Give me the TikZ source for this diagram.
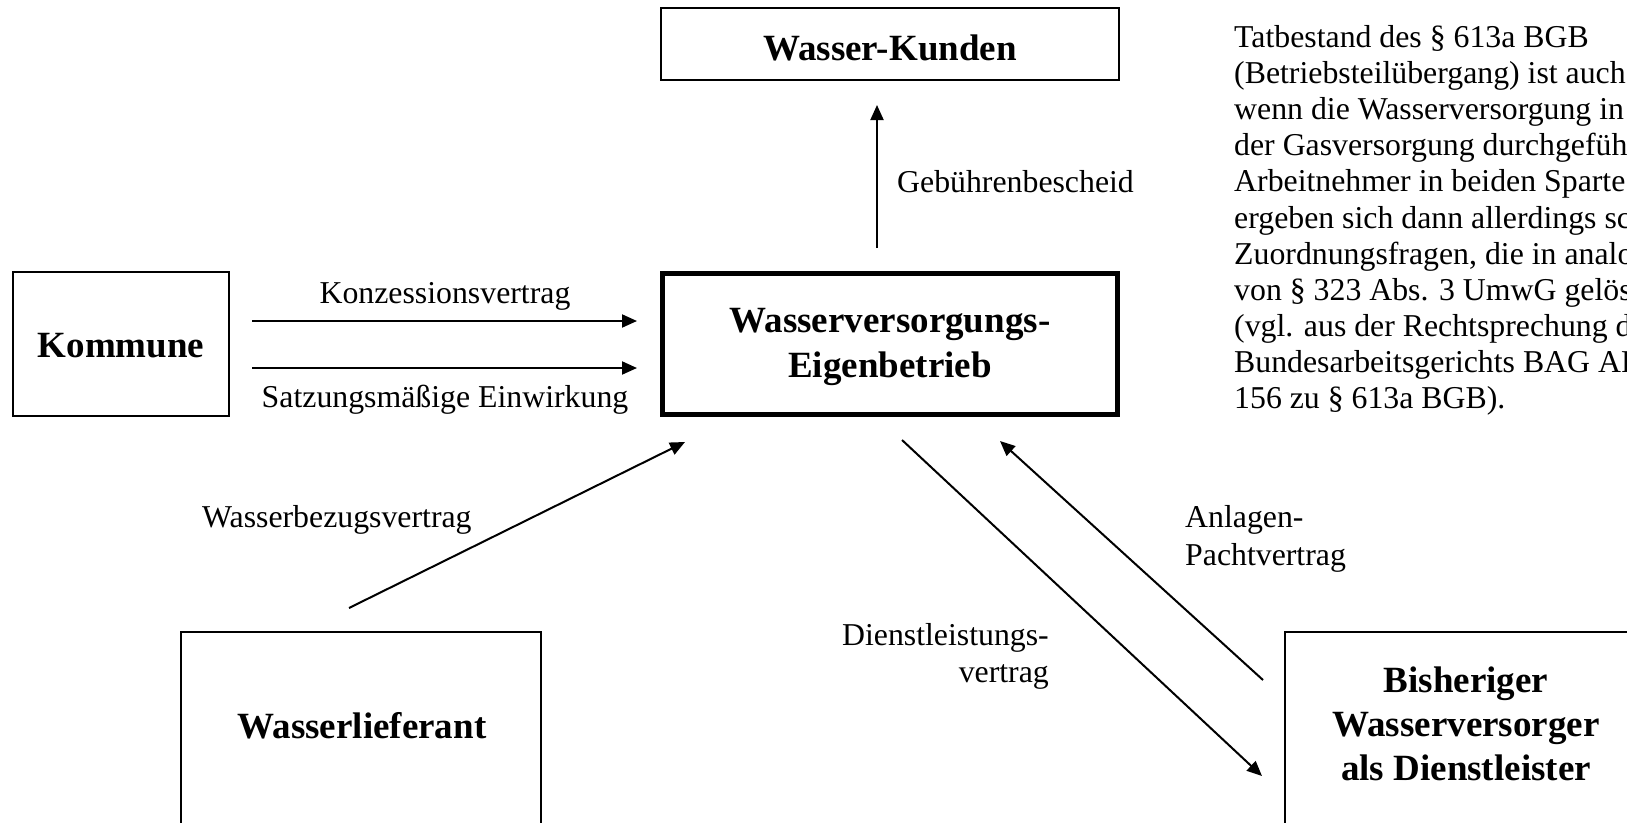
\documentclass[tikz,border=0pt]{standalone}
\usepackage{fontspec}
\setmainfont{Liberation Serif}
\usetikzlibrary{arrows.meta}
\begin{document}
\begin{tikzpicture}[x=1pt,y=-1pt,
  box/.style={draw, line width=2pt, inner sep=0pt},
  thickbox/.style={draw, line width=5pt, inner sep=0pt},
  lbl/.style={font=\fontsize{31.8pt}{36.1pt}\selectfont, inner sep=0pt},
  btxt/.style={font=\fontsize{37pt}{45pt}\selectfont\bfseries, inner sep=0pt, align=center},
  arr/.style={-{Triangle[length=15pt, width=13pt]}, line width=2pt}]
\useasboundingbox (0,0) rectangle (1627,822);
\clip (0,0) rectangle (1627,822);
\fill[white] (0,0) rectangle (1627,822);

% boxes
\node[box, minimum width=458pt, minimum height=72pt] (kunden) at (890,44) {};
\node[btxt, anchor=base] (kundentxt) at (890,60) {Wasser-Kunden};

\node[thickbox, minimum width=455pt, minimum height=141pt] (main) at (890,344) {};
\node[btxt, anchor=north] (maintxt) at (890,308) {Wasserversorgungs-\\Eigenbetrieb};

\node[box, minimum width=216pt, minimum height=144pt] (kommune) at (121,344) {};
\node[btxt, anchor=base] (kommunetxt) at (121,357) {Kommune};

\node[box, minimum width=360pt, minimum height=268pt] (lieferant) at (361,766) {};
\node[btxt, anchor=base] (lieferanttxt) at (362,738) {Wasserlieferant};

\node[box, minimum width=362pt, minimum height=268pt] (bisher) at (1466,766) {};
\node[btxt, anchor=north, font=\fontsize{37pt}{44pt}\selectfont\bfseries] (bishertxt) at (1466,667) {Bisheriger\\Wasserversorger\\als Dienstleister};

% connector end points
\coordinate (k1s) at (252,321); \coordinate (k1e) at (637,321);
\coordinate (k2s) at (252,368); \coordinate (k2e) at (637,368);
\coordinate (gs) at (877,248);  \coordinate (ge) at (877,105);
\coordinate (ws) at (349,608);  \coordinate (we) at (685,442);
\coordinate (ds) at (902,440);  \coordinate (de) at (1262,776);
\coordinate (as) at (1263,680); \coordinate (ae) at (1000,441);

\draw[arr] (k1s) -- (k1e);
\draw[arr] (k2s) -- (k2e);
\draw[arr] (gs) -- (ge);
\draw[arr] (ws) -- (we);
\draw[arr] (ds) -- (de);
\draw[arr] (as) -- (ae);

% labels
\node[lbl, anchor=base] (konz) at (445,303) {Konzessionsvertrag};
\node[lbl, anchor=base] (satz) at (445,407) {Satzungsmäßige Einwirkung};
\node[lbl, anchor=base west] (geb) at (897,192) {Gebührenbescheid};
\node[lbl, anchor=base west] (bezug) at (202,527) {Wasserbezugsvertrag};
\node[lbl, anchor=north west, align=left, font=\fontsize{31.8pt}{38pt}\selectfont] (anlagen) at (1185,505) {Anlagen-\\Pachtvertrag};
\node[lbl, anchor=north east, align=right, font=\fontsize{31.8pt}{37pt}\selectfont] (dienst) at (1049,623) {Dienstleistungs-\\vertrag};

\node[lbl, anchor=north west, align=left] (note) at (1234,25.3) {Tatbestand des § 613a BGB\\
(Betriebsteilübergang) ist auch\\
wenn die Wasserversorgung in\\
der Gasversorgung durchgefüh\\
Arbeitnehmer in beiden Sparte\\
ergeben sich dann allerdings sc\\
Zuordnungsfragen, die in analo\\
von § 323 Abs. 3 UmwG gelös\\
(vgl. aus der Rechtsprechung d\\
Bundesarbeitsgerichts BAG AP\\
156 zu § 613a BGB).};
\end{tikzpicture}
\end{document}
